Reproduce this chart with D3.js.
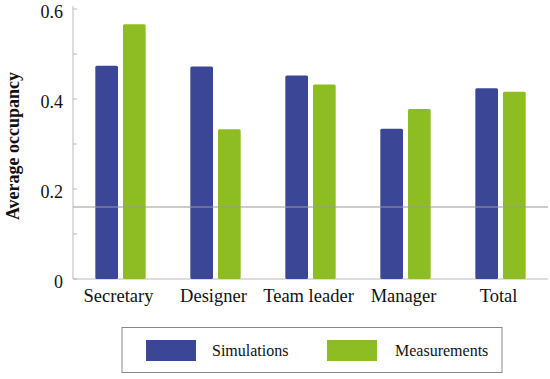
<!DOCTYPE html>
<html>
<head>
<meta charset="utf-8">
<script src="https://cdn.jsdelivr.net/npm/d3@7"></script>
<style>
    body { margin: 0; background: #fff; }
</style>
</head>
<body>
<div id="chart"></div>
<script>
// datos
const categories = ["Secretary", "Designer", "Team leader", "Manager", "Total"];
const seriesNames = ["Simulations", "Measurements"];
const simulations = [0.474, 0.472, 0.452, 0.334, 0.424];
const measurements = [0.566, 0.333, 0.432, 0.378, 0.416];
const yTicks = [0, 0.1, 0.2, 0.3, 0.4, 0.5, 0.6];
const yLabels = [0, 0.2, 0.4, 0.6];
const refLine = 0.16;

const colors = ["#3c4696", "#8dbd22"];
const width = 550, height = 379;
const fontSerif = "'Liberation Serif', 'Times New Roman', Tinos, 'DejaVu Serif', serif";

const svg = d3.select("#chart").append("svg")
    .attr("width", width)
    .attr("height", height)
    .style("font-family", fontSerif);

const x = d3.scaleBand()
    .domain(categories)
    .range([73, 548])
    .paddingInner(0.47)
    .paddingOuter(0.235);

const xInner = d3.scaleBand()
    .domain(seriesNames)
    .range([0, x.bandwidth()])
    .paddingInner(0.18);

const y = d3.scaleLinear()
    .domain([0, 0.6])
    .range([279, 9]);

// ejes
svg.append("line")
    .attr("x1", 73).attr("x2", 73)
    .attr("y1", 6).attr("y2", y(0))
    .attr("stroke", "#bbb");

svg.append("line")
    .attr("x1", 73).attr("x2", 548)
    .attr("y1", y(0)).attr("y2", y(0))
    .attr("stroke", "#bbb");

svg.selectAll(".ytick")
    .data(yTicks)
    .enter().append("line")
    .attr("class", "ytick")
    .attr("x1", 73).attr("x2", 77)
    .attr("y1", d => y(d)).attr("y2", d => y(d))
    .attr("stroke", "#bbb");

svg.selectAll(".ylabel")
    .data(yLabels)
    .enter().append("text")
    .attr("class", "ylabel")
    .attr("x", 63)
    .attr("y", d => y(d) + 3)
    .attr("dy", "0.35em")
    .attr("text-anchor", "end")
    .attr("font-family", fontSerif)
    .attr("font-size", 18)
    .attr("fill", "#111")
    .text(d => d === 0 ? "0" : d3.format(".1f")(d));

svg.append("text")
    .attr("transform", `translate(19,146) rotate(-90)`)
    .attr("text-anchor", "middle")
    .attr("font-family", fontSerif)
    .attr("font-size", 18)
    .attr("font-weight", "bold")
    .attr("fill", "#111")
    .text("Average occupancy");

// barras
const rows = categories.map((c, i) => ({cat: c, values: [simulations[i], measurements[i]]}));

const group = svg.selectAll(".group")
    .data(rows)
    .enter().append("g")
    .attr("class", "group")
    .attr("transform", d => `translate(${x(d.cat)},0)`);

group.selectAll("rect")
    .data(d => d.values.map((v, j) => ({name: seriesNames[j], value: v, idx: j})))
    .enter().append("rect")
    .attr("x", d => xInner(d.name))
    .attr("y", d => y(d.value))
    .attr("width", xInner.bandwidth())
    .attr("height", d => y(0) - y(d.value))
    .attr("rx", 1.5)
    .attr("fill", d => colors[d.idx]);

// linea de referencia
svg.append("line")
    .attr("x1", 73).attr("x2", 548)
    .attr("y1", y(refLine)).attr("y2", y(refLine))
    .attr("stroke", "#999")
    .attr("stroke-width", 1);

svg.selectAll(".xlabel")
    .data(categories)
    .enter().append("text")
    .attr("class", "xlabel")
    .attr("x", d => x(d) + x.bandwidth() / 2 - 2)
    .attr("y", 302)
    .attr("text-anchor", "middle")
    .attr("font-family", fontSerif)
    .attr("font-size", 18.5)
    .attr("fill", "#111")
    .text(d => d);

// leyenda
const legend = svg.append("g");
legend.append("rect")
    .attr("x", 122).attr("y", 327.5)
    .attr("width", 380).attr("height", 45)
    .attr("fill", "#fff")
    .attr("stroke", "#888");

const legendX = [146, 327];
const item = legend.selectAll(".item")
    .data(seriesNames)
    .enter().append("g")
    .attr("class", "item")
    .attr("transform", (d, i) => `translate(${legendX[i]},340)`);

item.append("rect")
    .attr("width", 50).attr("height", 21)
    .attr("fill", (d, i) => colors[i]);

item.append("text")
    .attr("x", (d, i) => i === 0 ? 66 : 68)
    .attr("y", 16)
    .attr("font-family", fontSerif)
    .attr("font-size", 16)
    .attr("fill", "#111")
    .text(d => d);
</script>
</body>
</html>
